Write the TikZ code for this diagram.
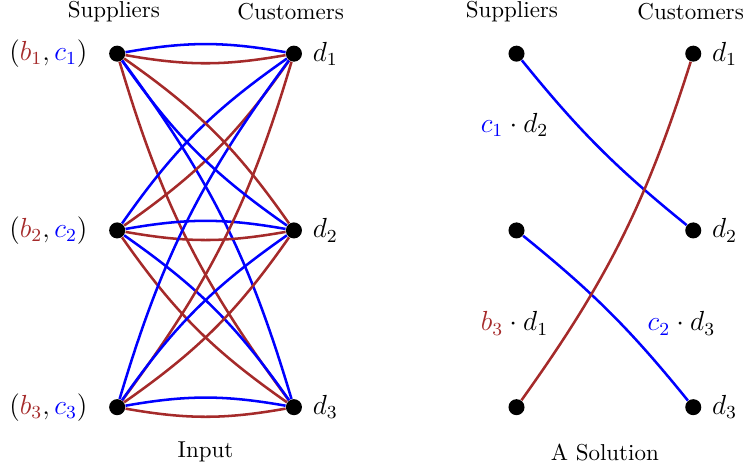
\documentclass[tikz,border=0pt]{standalone}
\usetikzlibrary{positioning}
\definecolor{bred}{RGB}{165,42,42}
\tikzset{
  vtx/.style={circle,fill=black,inner sep=0pt,minimum size=0.245cm},
  lbl/.style={font=\large},
  cedge/.style={blue,line width=1.1pt,bend left=10},
  bedge/.style={bred,line width=1.1pt,bend right=10}
}
\begin{document}
\begin{tikzpicture}
\useasboundingbox (-1.79,-0.92) rectangle (9.56,6.22);
% input graph
\foreach \i/\y in {1/5.4,2/2.7,3/0} {
  \node[vtx] (s\i) at (0,\y) {};
  \node[vtx] (d\i) at (2.7,\y) {};
  \node[lbl,left=0.2cm of s\i] (sl\i) {$(\textcolor{bred}{b_\i},\textcolor{blue}{c_\i})$};
  \node[lbl,right=1pt of d\i] (dl\i) {$d_\i$};
}
\foreach \i/\j in {1/1,1/3,2/1,2/2,2/3,3/1,3/2,3/3} {
  \draw[cedge] (s\i) to (d\j);
  \draw[bedge] (s\i) to (d\j);
}
\draw[cedge] (d2) to (s1);
\draw[bedge] (d2) to (s1);
\node (sh) at (-0.05,6.04) {Suppliers};
\node (ch) at (2.65,6.04) {Customers};
\node (inp) at (1.35,-0.69) {Input};
% solution graph
\foreach \i/\y in {1/5.4,2/2.7,3/0} {
  \node[vtx] (ss\i) at (6.1,\y) {};
  \node[vtx] (sd\i) at (8.8,\y) {};
  \node[lbl,right=1pt of sd\i] (sdl\i) {$d_\i$};
}
\draw[cedge,bend left=6] (sd2) to (ss1);
\draw[cedge,bend left=6] (ss2) to (sd3);
\draw[bedge,bend right=9] (ss3) to (sd1);
\node (ssh) at (6.03,6.04) {Suppliers};
\node (sch) at (8.76,6.04) {Customers};
\node[lbl] (cd12) at (6.07,4.31) {$\textcolor{blue}{c_1}\cdot d_2$};
\node[lbl] (bd31) at (6.07,1.28) {$\textcolor{bred}{b_3}\cdot d_1$};
\node[lbl] (cd23) at (8.62,1.28) {$\textcolor{blue}{c_2}\cdot d_3$};
\node (sol) at (7.45,-0.69) {A Solution};
\end{tikzpicture}
\end{document}
